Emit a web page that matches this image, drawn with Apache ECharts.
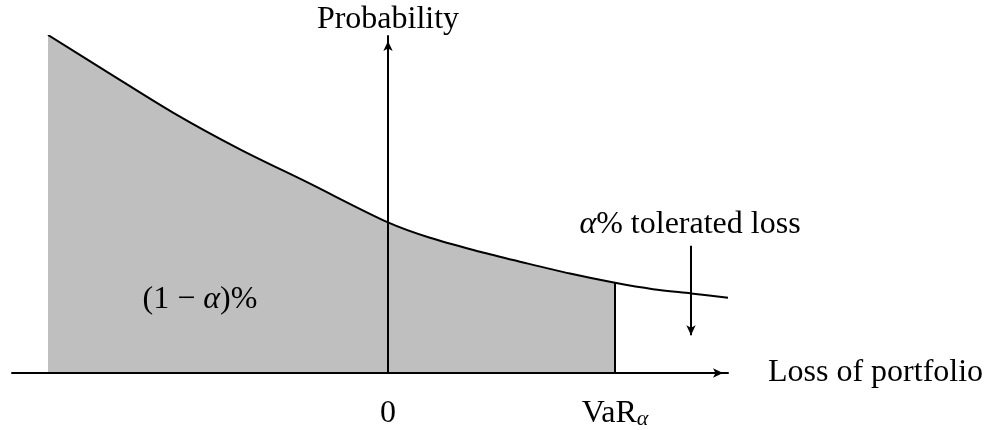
<!DOCTYPE html>
<html><head><meta charset="utf-8">
<script src="https://cdn.jsdelivr.net/npm/echarts@6/dist/echarts.min.js"></script>
<style>html,body{margin:0;padding:0;background:#fff}#c{width:1002px;height:430px}</style>
</head><body><div id="c"></div>
<script>
// Curve (arbitrary units; 0 = position of the probability axis)
const curveX = [-3.40, -2.81, -2.15, -1.48, -0.81, 0, 0.42, 0.92, 1.32, 1.82, 2.27, 2.65, 3.03, 3.40];
const curveY = [3.40, 3.03, 2.62, 2.25, 1.92, 1.515, 1.36, 1.22, 1.12, 1.00, 0.907, 0.843, 0.80, 0.757];
const varX = 2.27;
const tickValues = [0, 2.27];
const tickLabels = ['0', '{a|VaR}{s|α}'];
const arrowX = 3.03;
const arrowFromY = 1.28;
const arrowToY = 0.38;
const xRange = [-3.76, 3.40];
const yRange = [0, 3.39];

const FONT = 'Liberation Serif';
const fullCurve = curveX.map((x, i) => [x, curveY[i]]);
const shaded = fullCurve.filter(p => p[0] <= varX + 1e-9);
const varY = curveY[curveX.indexOf(varX)];

const chart = echarts.init(document.getElementById('c'), null, {renderer: 'canvas'});
const axisLineStyle = {color: '#000', width: 2};
chart.setOption({
  animation: false,
  backgroundColor: '#fff',
  grid: {left: 12, right: 274, top: 36, bottom: 55},
  xAxis: {
    type: 'value', min: xRange[0], max: xRange[1], z: 10,
    splitLine: {show: false},
    axisTick: {show: false},
    axisLine: {show: true, onZero: true, lineStyle: axisLineStyle,
      symbol: ['none', 'arrow'], symbolSize: [7, 10], symbolOffset: [0, -5]},
    axisLabel: {
      customValues: tickValues,
      margin: 25,
      color: '#000', fontFamily: FONT, fontSize: 32,
      formatter: v => tickLabels[tickValues.indexOf(v)],
      rich: {
        a: {fontFamily: FONT, fontSize: 32, color: '#000', lineHeight: 32},
        s: {fontFamily: FONT, fontSize: 22, fontStyle: 'italic', color: '#000', lineHeight: 18, verticalAlign: 'bottom'}
      }
    },
    name: 'Loss of portfolio', nameLocation: 'end', nameGap: 40,
    nameTextStyle: {color: '#000', fontFamily: FONT, fontSize: 32}
  },
  yAxis: {
    type: 'value', min: yRange[0], max: yRange[1], z: 10,
    splitLine: {show: false},
    axisTick: {show: false},
    axisLabel: {show: false},
    axisLine: {show: true, onZero: true, lineStyle: axisLineStyle,
      symbol: ['none', 'arrow'], symbolSize: [7, 10], symbolOffset: [0, -5]},
    name: 'Probability', nameLocation: 'end', nameGap: 0,
    nameTextStyle: {color: '#000', fontFamily: FONT, fontSize: 32, align: 'center'}
  },
  series: [
    {
      type: 'line', data: shaded, smooth: 0.3, symbol: 'none', silent: true,
      lineStyle: {width: 0}, areaStyle: {color: '#bfbfbf', opacity: 1}, z: 1
    },
    {
      type: 'line', data: fullCurve, smooth: 0.3, symbol: 'none', silent: true,
      lineStyle: {color: '#000', width: 2}, z: 5
    },
    {
      type: 'line', data: [[varX, 0], [varX, varY]], symbol: 'none', silent: true,
      lineStyle: {color: '#000', width: 2}, z: 4,
      markLine: {
        silent: true, symbol: ['none', 'arrow'], symbolSize: [7, 10],
        label: {show: false},
        lineStyle: {color: '#000', width: 2, type: 'solid'},
        data: [[{coord: [arrowX, arrowFromY]}, {coord: [arrowX, arrowToY]}]]
      }
    }
  ],
  graphic: [
    {type: 'text', x: 200, y: 300, z: 10, style: {
      text: '(1 − {i|α})%', fill: '#000', font: '32px "' + FONT + '"',
      align: 'center', verticalAlign: 'middle',
      rich: {i: {fontFamily: FONT, fontSize: 32, fontStyle: 'italic', fill: '#000'}}
    }},
    {type: 'text', x: 690, y: 225, z: 10, style: {
      text: '{i|α}% tolerated loss', fill: '#000', font: '32px "' + FONT + '"',
      align: 'center', verticalAlign: 'middle',
      rich: {i: {fontFamily: FONT, fontSize: 32, fontStyle: 'italic', fill: '#000'}}
    }}
  ]
});
</script>
</body></html>
